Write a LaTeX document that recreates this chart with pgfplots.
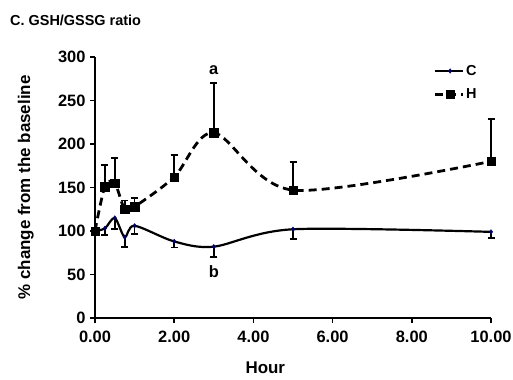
\documentclass[border=0pt]{standalone}
\usepackage{pgfplots}
\pgfplotsset{compat=1.18}
\usepackage{fontspec}
\setmainfont{Liberation Sans}
\begin{document}
\begin{tikzpicture}
\useasboundingbox (0bp,0bp) rectangle (513bp,380bp);
\node[anchor=base west,font=\bfseries\fontsize{14.5}{16}\selectfont, inner sep=0pt] at (10bp,354bp) {C. GSH/GSSG ratio};
\begin{axis}[
  at={(95bp,62bp)}, anchor=south west,
  scale only axis, width=396bp, height=261bp,
  xmin=0, xmax=10, ymin=0, ymax=300,
  axis lines*=left,
  axis line style={line width=2.4pt},
  every tick/.style={black, line width=1.8pt},
  tick align=outside, major tick length=5bp,
  xtick={0,2,4,6,8,10}, ytick={0,50,100,150,200,250,300},
  xticklabel style={yshift=-5bp, /pgf/number format/.cd, fixed, fixed zerofill, precision=2},
  /pgf/number format/assume math mode=true,
  tick label style={font=\bfseries\fontsize{16.5}{18}\selectfont},
  yticklabel style={xshift=-1bp, /pgf/number format/.cd, fixed, precision=0},
  xlabel={Hour}, ylabel={\% change from the baseline},
  label style={font=\bfseries\fontsize{17}{19}\selectfont},
  xlabel style={at={(axis description cs:0.43,-0.19)}, anchor=center},
  ylabel style={at={(axis description cs:-0.175,0.5)}, anchor=center},
  clip=false,
  legend style={draw=none, fill=none, at={(0.855,0.975)}, anchor=north west,
    font=\bfseries\fontsize{14.5}{16}\selectfont, row sep=9bp,
    legend cell align=left, inner sep=0pt,
    nodes={inner sep=1.5bp}},
  legend image code/.code={
    \draw[#1] (0bp,0bp) -- (28bp,0bp);
    \draw[#1, only marks] plot coordinates {(15bp,0bp)};
  },
]
\addplot[black, line width=2.2pt, smooth, tension=0.5,
  mark=diamond*, mark size=2.2bp, mark options={solid, fill=blue!40!black, draw=blue!40!black, line width=0.5pt},
  error bars/.cd, y dir=minus, y explicit,
  error bar style={black, line width=1.8pt, solid},
  error mark options={black, line width=1.8pt, rotate=90, mark size=3.5bp}]
coordinates {
 (0,100) -= (0,0)
 (0.25,103) -= (0,8)
 (0.5,115) -= (0,13)
 (0.75,93) -= (0,11)
 (1,106) -= (0,9)
 (2,88) -= (0,7)
 (3,82) -= (0,12)
 (5,102) -= (0,11)
 (10,99) -= (0,7)
};
\addlegendentry{C}
\addplot[black, line width=2.8pt, dash pattern=on 8bp off 5bp, smooth, tension=0.5,
  mark=square*, mark size=4.2bp, mark options={solid, fill=black, line width=0.5pt},
  error bars/.cd, y dir=plus, y explicit,
  error bar style={black, line width=1.8pt, solid},
  error mark options={black, line width=1.8pt, rotate=90, mark size=3.5bp}]
coordinates {
 (0,100) += (0,0)
 (0.25,151) += (0,25)
 (0.5,155) += (0,29)
 (0.75,125) += (0,10)
 (1,128) += (0,10)
 (2,162) += (0,25)
 (3,213) += (0,57)
 (5,147) += (0,32)
 (10,180) += (0,49)
};
\addlegendentry{H}
\node[font=\bfseries\fontsize{16.5}{18}\selectfont, anchor=base] at (axis cs:3,280) {a};
\node[font=\bfseries\fontsize{16.5}{18}\selectfont, anchor=base] at (axis cs:3,47) {b};
\end{axis}
\end{tikzpicture}
\end{document}
